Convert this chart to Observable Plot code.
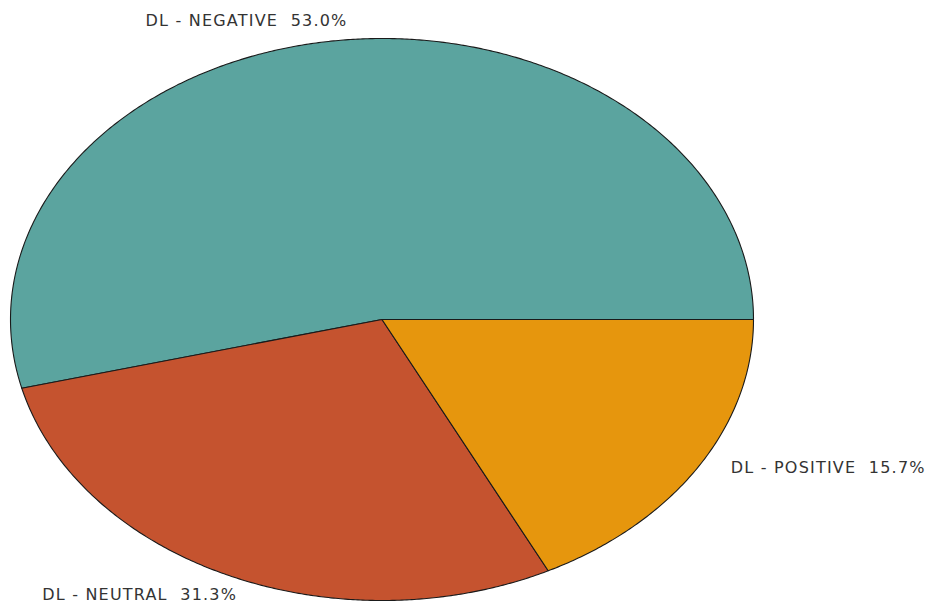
<!DOCTYPE html>
<html>
<head>
<meta charset="utf-8">
<script src="https://cdn.jsdelivr.net/npm/d3@7"></script>
<script src="https://cdn.jsdelivr.net/npm/@observablehq/plot@0.6"></script>
<style>
  html, body { margin: 0; padding: 0; background: #fff; }
  #chart svg { display: block; }
  #chart svg text { letter-spacing: 1.2px; }
</style>
</head>
<body>
<div id="chart"></div>
<script>
// Data
const categories = ["DL - NEGATIVE", "DL - NEUTRAL", "DL - POSITIVE"];
const percents = [53.0, 31.3, 15.7];
const colors = ["#5ba49f", "#c5532f", "#e6960d"];

// Layout (pixels)
const W = 927, H = 611;
const xRange = [10, 753];
const yRange = [600, 38];
const RX = (xRange[1] - xRange[0]) / 2;
const RY = (yRange[0] - yRange[1]) / 2;

// point on the ellipse at a true (screen) angle, expressed in data units
function ellipsePoint(deg) {
  const t = deg * Math.PI / 180;
  const c = Math.cos(t), s = Math.sin(t);
  const r = 1 / Math.sqrt((c / RX) ** 2 + (s / RY) ** 2);
  return {x: r * c / RX, y: r * s / RY};
}

const total = d3.sum(percents);
let acc = 0;
const slices = categories.map((name, i) => {
  const a0 = acc / total * 360;
  acc += percents[i];
  const a1 = acc / total * 360;
  const pts = [{x: 0, y: 0}];
  const n = Math.max(2, Math.ceil((a1 - a0) / 0.5));
  for (let k = 0; k <= n; k++) pts.push(ellipsePoint(a0 + (a1 - a0) * k / n));
  pts.push({x: 0, y: 0});
  return {name, pct: percents[i], color: colors[i], a0, a1, pts, mid: ellipsePoint((a0 + a1) / 2)};
});

const labelStyle = {
  "DL - NEGATIVE": {textAnchor: "end", dx: -8, dy: -18},
  "DL - NEUTRAL": {textAnchor: "end", dx: -32, dy: 8},
  "DL - POSITIVE": {textAnchor: "start", dx: 46, dy: -14}
};

const marks = [];
for (const s of slices) {
  marks.push(Plot.line(s.pts, {x: "x", y: "y", fill: s.color, stroke: "#1a1a1a", strokeWidth: 1.1, strokeLinejoin: "round"}));
}
for (const s of slices) {
  const st = labelStyle[s.name];
  marks.push(Plot.text([s], {
    x: d => d.mid.x, y: d => d.mid.y,
    text: d => `${d.name}  ${d.pct.toFixed(1)}%`,
    textAnchor: st.textAnchor, dx: st.dx, dy: st.dy,
    fill: "#333", fontSize: 16
  }));
}

const chart = Plot.plot({
  width: W, height: H,
  margin: 0,
  style: {fontFamily: "'DejaVu Sans', Verdana, sans-serif", background: "#fff"},
  x: {domain: [-1, 1], range: xRange, axis: null},
  y: {domain: [-1, 1], range: yRange, axis: null},
  marks
});
document.getElementById("chart").appendChild(chart);
</script>
</body>
</html>
